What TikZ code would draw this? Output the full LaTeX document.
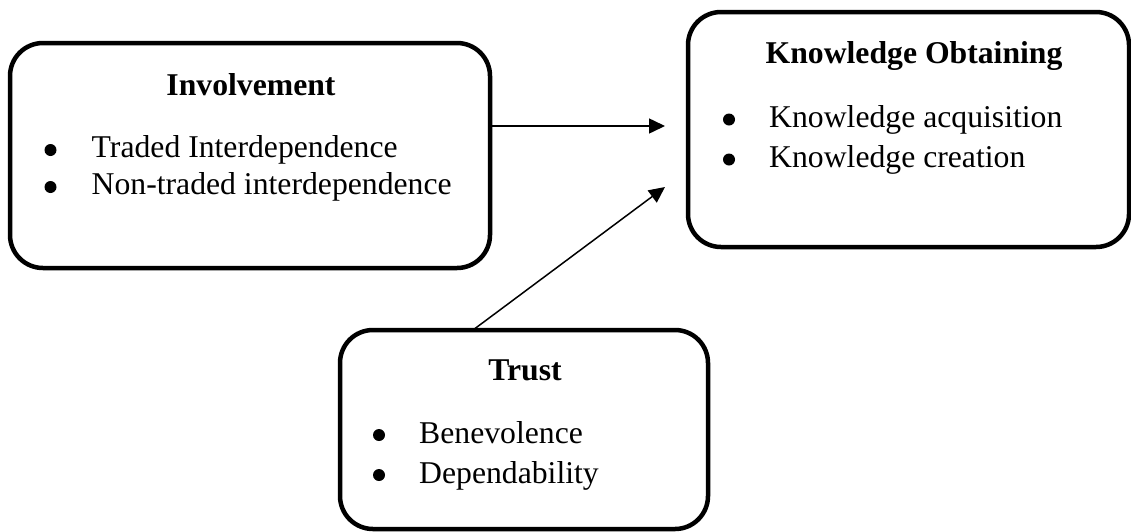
\documentclass[tikz,border=0pt]{standalone}
\usepackage{fontspec}
\setmainfont{Liberation Serif}
\usetikzlibrary{arrows.meta}

\tikzset{
  panel/.style={draw=black, line width=4.5pt, rounded corners=33pt,
    inner sep=0pt, outer sep=0pt},
  head/.style={anchor=base, inner sep=0pt, font=\fontsize{31.7}{38}\selectfont\bfseries},
  item/.style={anchor=base west, inner sep=0pt, font=\fontsize{31.7}{38}\selectfont},
  dot/.style={circle, fill=black, inner sep=0pt, minimum size=12pt},
  link/.style={line width=1.5pt, -{Triangle[length=16pt,width=15pt]}}
}

\begin{document}
\begin{tikzpicture}[x=1pt, y=-1pt]
\useasboundingbox (0,0) rectangle (1131,531);

% three panels
\node[panel, minimum width=480pt, minimum height=225pt] (inv) at (250,155.5) {};
\node[panel, minimum width=441pt, minimum height=235pt] (know) at (908.5,129.5) {};
\node[panel, minimum width=368pt, minimum height=199pt] (trust) at (524,429.5) {};

% Involvement
\node[head] (invh) at (251,95) {Involvement};
\node[dot] (invb1) at (50.5,150) {};
\node[item] (inv1) at (91.5,157) {Traded Interdependence};
\node[dot] (invb2) at (50.5,187) {};
\node[item] (inv2) at (91.5,194) {Non-traded interdependence};

% Knowledge Obtaining
\node[head] (knowh) at (914,63) {Knowledge Obtaining};
\node[dot] (knowb1) at (729,119.5) {};
\node[item] (know1) at (769,127) {Knowledge acquisition};
\node[dot] (knowb2) at (729,159.5) {};
\node[item] (know2) at (769,167) {Knowledge creation};

% Trust
\node[head] (trusth) at (525,380) {Trust};
\node[dot] (trustb1) at (379,435) {};
\node[item] (trust1) at (419,443) {Benevolence};
\node[dot] (trustb2) at (379,475) {};
\node[item] (trust2) at (419,483) {Dependability};

% connectors
\coordinate (tipA) at (665,126);
\coordinate (tipB) at (665,187);
\coordinate (footB) at (473,330);
\draw[link] (inv.east |- tipA) -- (tipA);
\draw[link] (footB) -- (tipB);
\end{tikzpicture}
\end{document}
